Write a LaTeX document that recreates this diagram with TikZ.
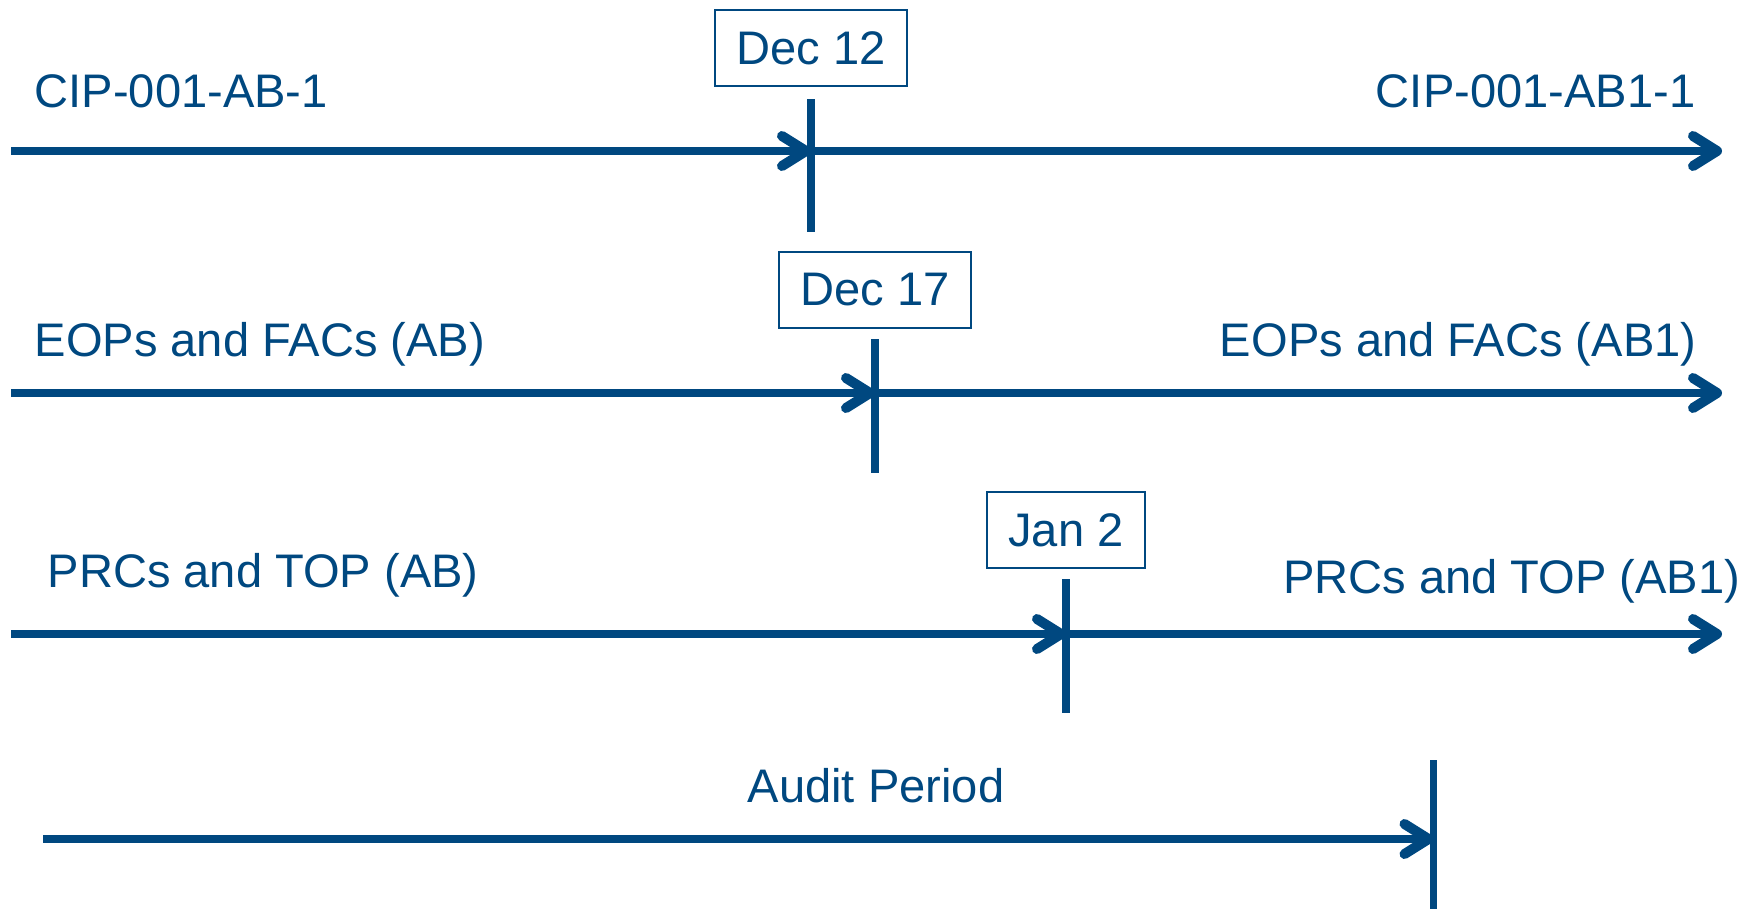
\documentclass[tikz,border=0pt]{standalone}
\usepackage{fontspec}
\setmainfont{Liberation Sans}
\usepackage{tikz}
\usetikzlibrary{arrows.meta, positioning}
\definecolor{tlblue}{RGB}{0,72,128}

\begin{document}
\begin{tikzpicture}[
  lbl/.style={
    inner sep=0pt,
    text=tlblue
  },
  datebox/.style={
    rectangle,
    draw=tlblue,
    line width=0.6pt,
    minimum height=0.76cm,
    inner xsep=0.21cm,
    text=tlblue
  },
  every node/.style={font=\fontsize{13.4}{16}\selectfont},
  arrow/.style={-{Straight Barb[length=2.4mm, width=3mm, line width=0.1cm, round]}, line width=0.087cm, draw=tlblue},
  dateline/.style={line width=0.078cm, draw=tlblue}
]

\useasboundingbox (0,0) rectangle (17.56,-9.09);

% ============================================================
% Row 1: CIP-001
% ============================================================

\coordinate (s1) at (0.11,-1.51);
\coordinate (t1) at (8.11,-1.51);
\coordinate (e1) at (17.22,-1.51);
\coordinate[above=0.52cm of t1] (t1a);
\coordinate[below=0.81cm of t1] (t1b);

\draw[dateline] (t1a) -- (t1b);
\draw[arrow] (s1) -- (t1);
\draw[arrow] (t1) -- (e1);

\node[datebox, above=0.12cm of t1a] (d1) {Dec 12};
\node[lbl, anchor=base west] (old1) at (0.34,-1.075) {CIP-001-AB-1};
\node[lbl, anchor=base east] (new1) at (16.96,-1.075) {CIP-001-AB1-1};

% ============================================================
% Row 2: EOPs and FACs
% ============================================================

\coordinate (s2) at (0.11,-3.93);
\coordinate (t2) at (8.75,-3.93);
\coordinate (e2) at (17.22,-3.93);
\coordinate[above=0.54cm of t2] (t2a);
\coordinate[below=0.80cm of t2] (t2b);

\draw[dateline] (t2a) -- (t2b);
\draw[arrow] (s2) -- (t2);
\draw[arrow] (t2) -- (e2);

\node[datebox, above=0.10cm of t2a] (d2) {Dec 17};
\node[lbl, anchor=base west] (old2) at (0.34,-3.56) {EOPs and FACs (AB)};
\node[lbl, anchor=base east] (new2) at (16.97,-3.56) {EOPs and FACs (AB1)};

% ============================================================
% Row 3: PRCs and TOP
% ============================================================

\coordinate (s3) at (0.11,-6.34);
\coordinate (t3) at (10.66,-6.34);
\coordinate (e3) at (17.22,-6.34);
\coordinate[above=0.55cm of t3] (t3a);
\coordinate[below=0.79cm of t3] (t3b);

\draw[dateline] (t3a) -- (t3b);
\draw[arrow] (s3) -- (t3);
\draw[arrow] (t3) -- (e3);

\node[datebox, above=0.10cm of t3a] (d3) {Jan 2};
\node[lbl, anchor=base west] (old3) at (0.47,-5.87) {PRCs and TOP (AB)};
\node[lbl, anchor=base east] (new3) at (17.41,-5.93) {PRCs and TOP (AB1)};

% ============================================================
% Row 4: audit period
% ============================================================

\coordinate (s4) at (0.43,-8.39);
\coordinate (t4) at (14.335,-8.39);
\coordinate[above=0.79cm of t4] (t4a);
\coordinate[below=0.70cm of t4] (t4b);

\draw[dateline] (t4a) -- (t4b);
\draw[arrow] (s4) -- (t4);

\node[lbl, anchor=base] (audit) at (8.76,-8.02) {Audit Period};

\end{tikzpicture}
\end{document}
